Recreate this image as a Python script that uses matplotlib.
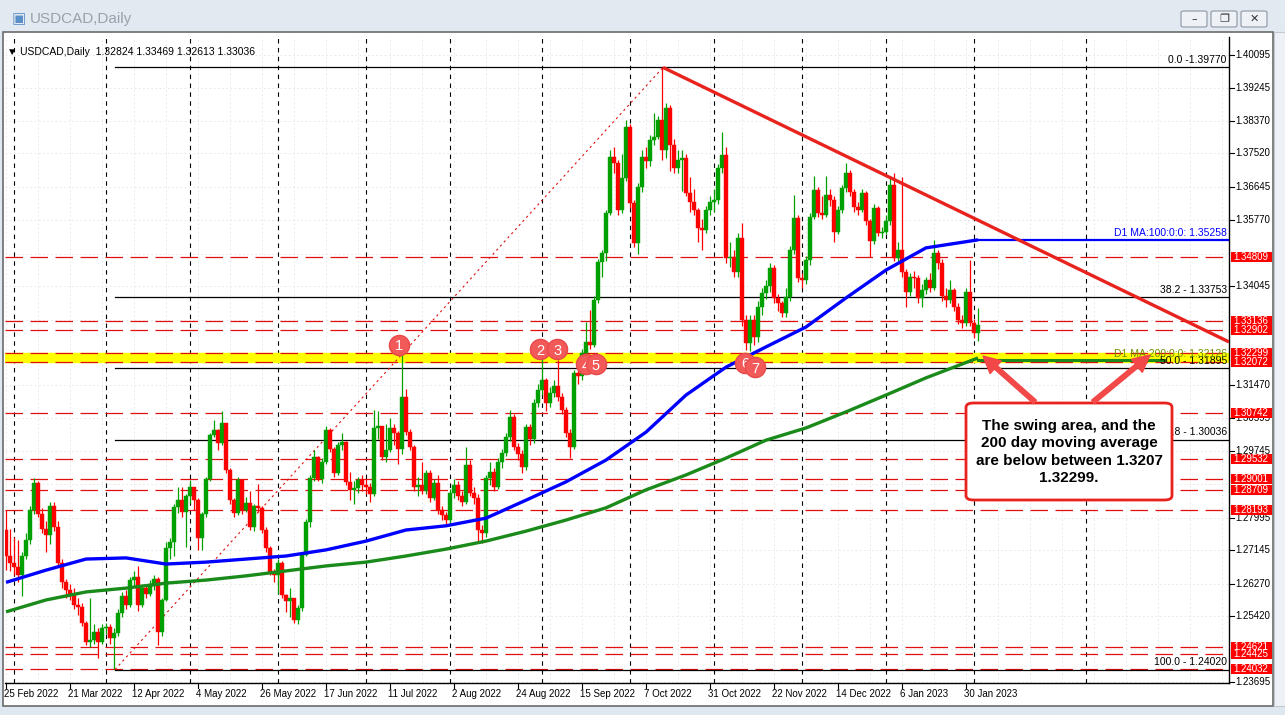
import numpy as np
import matplotlib
matplotlib.use("Agg")
import matplotlib.pyplot as plt
from matplotlib.patches import Rectangle, FancyBboxPatch, FancyArrow
from matplotlib.transforms import IdentityTransform

plt.rcParams['font.family'] = ['Liberation Sans', 'DejaVu Sans']

W, H = 1285, 715

# ---- daily USDCAD candles, 25 Feb 2022 .. 2 Feb 2023 ----
first_open = 1.2767
closes = [
    1.2700, 1.2680, 1.2670, 1.2650, 1.2700, 1.2740, 1.2820, 1.2890, 1.2810, 1.2770,
    1.2755, 1.2830, 1.2775, 1.2680, 1.2630, 1.2610, 1.2600, 1.2570, 1.2565, 1.2525,
    1.2475, 1.2480, 1.2500, 1.2475, 1.2510, 1.2512, 1.2485, 1.2497, 1.2550, 1.2595,
    1.2570, 1.2635, 1.2645, 1.2570, 1.2615, 1.2600, 1.2620, 1.2640, 1.2500, 1.2585,
    1.2720, 1.2736, 1.2828, 1.2845, 1.2815, 1.2855, 1.2880, 1.2845, 1.2745, 1.2810,
    1.2900, 1.3016, 1.3029, 1.2994, 1.3046, 1.2924, 1.2845, 1.2811, 1.2898, 1.2820,
    1.2837, 1.2776, 1.2830, 1.2824, 1.2767, 1.2719, 1.2658, 1.2649, 1.2680, 1.2597,
    1.2580, 1.2588, 1.2532, 1.2562, 1.2702, 1.2789, 1.2902, 1.2959, 1.2900, 1.2946,
    1.3029, 1.2980, 1.2915, 1.2990, 1.2998, 1.2893, 1.2872, 1.2876, 1.2898, 1.2885,
    1.2880, 1.2860, 1.3033, 1.3038, 1.2959, 1.2975, 1.3033, 1.3020, 1.2980, 1.3116,
    1.3024, 1.2985, 1.2880, 1.2885, 1.2869, 1.2915, 1.2850, 1.2889, 1.2820, 1.2807,
    1.2793, 1.2863, 1.2885, 1.2855, 1.2841, 1.2937, 1.2863, 1.2850, 1.2767, 1.2760,
    1.2902, 1.2920, 1.2880, 1.2945, 1.2968, 1.3011, 1.3063, 1.2985, 1.2967, 1.2933,
    1.3037, 1.3006, 1.3098, 1.3133, 1.3160, 1.3098, 1.3125, 1.3144, 1.3115, 1.3081,
    1.3020, 1.2985, 1.3177, 1.3170, 1.3229, 1.3260, 1.3252, 1.3369, 1.3469, 1.3491,
    1.3595, 1.3743, 1.3727, 1.3604, 1.3687, 1.3822, 1.3622, 1.3517, 1.3665, 1.3744,
    1.3731, 1.3787, 1.3796, 1.3840, 1.3760, 1.3870, 1.3775, 1.3713, 1.3735, 1.3740,
    1.3648, 1.3626, 1.3604, 1.3556, 1.3552, 1.3604, 1.3626, 1.3630, 1.3713, 1.3748,
    1.3478, 1.3480, 1.3443, 1.3530, 1.3316, 1.3255, 1.3316, 1.3272, 1.3351, 1.3386,
    1.3404, 1.3452, 1.3373, 1.3360, 1.3334, 1.3377, 1.3500, 1.3582, 1.3425, 1.3420,
    1.3473, 1.3587, 1.3656, 1.3595, 1.3591, 1.3643, 1.3630, 1.3547, 1.3604, 1.3661,
    1.3700, 1.3652, 1.3613, 1.3604, 1.3648, 1.3574, 1.3522, 1.3608, 1.3543, 1.3547,
    1.3574, 1.3670, 1.3478, 1.3500, 1.3443, 1.3390, 1.3430, 1.3426, 1.3373, 1.3395,
    1.3420, 1.3400, 1.3491, 1.3465, 1.3378, 1.3368, 1.3395, 1.3351, 1.3316, 1.3308,
    1.3390, 1.3308, 1.3282, 1.3304,
]
highs = [
    1.2819, 1.2770, 1.2750, 1.2740, 1.2710, 1.2760, 1.2830, 1.2903, 1.2895, 1.2825,
    1.2790, 1.2840, 1.2840, 1.2790, 1.2690, 1.2640, 1.2625, 1.2615, 1.2590, 1.2575,
    1.2530, 1.2590, 1.2520, 1.2510, 1.2520, 1.2525, 1.2520, 1.2510, 1.2560, 1.2605,
    1.2610, 1.2645, 1.2660, 1.2672, 1.2625, 1.2625, 1.2635, 1.2650, 1.2645, 1.2590,
    1.2735, 1.2745, 1.2835, 1.2880, 1.2880, 1.2860, 1.2898, 1.2880, 1.2850, 1.2815,
    1.2905, 1.3020, 1.3055, 1.3030, 1.3077, 1.3045, 1.2930, 1.2850, 1.2905, 1.2900,
    1.2854, 1.2870, 1.2835, 1.2888, 1.2830, 1.2775, 1.2725, 1.2665, 1.2690, 1.2685,
    1.2600, 1.2614, 1.2590, 1.2570, 1.2710, 1.2795, 1.2910, 1.2975, 1.2960, 1.2955,
    1.3040, 1.3035, 1.2985, 1.2998, 1.3020, 1.3000, 1.2920, 1.2895, 1.2905, 1.2910,
    1.2900, 1.2890, 1.3081, 1.3077, 1.3040, 1.3045, 1.3060, 1.3045, 1.3025, 1.3229,
    1.3137, 1.3030, 1.2990, 1.2905, 1.2945, 1.2925, 1.2925, 1.2900, 1.2910, 1.2830,
    1.2815, 1.2875, 1.2900, 1.2895, 1.2870, 1.2985, 1.2950, 1.2880, 1.2860, 1.2780,
    1.2910, 1.2945, 1.2930, 1.2955, 1.2980, 1.3020, 1.3080, 1.3070, 1.2995, 1.2975,
    1.3045, 1.3045, 1.3110, 1.3150, 1.3229, 1.3165, 1.3140, 1.3160, 1.3212, 1.3125,
    1.3090, 1.3030, 1.3185, 1.3195, 1.3240, 1.3310, 1.3342, 1.3380, 1.3475, 1.3500,
    1.3605, 1.3760, 1.3770, 1.3735, 1.3750, 1.3840, 1.3830, 1.3630, 1.3675, 1.3760,
    1.3770, 1.3800, 1.3857, 1.3850, 1.3977, 1.3885, 1.3880, 1.3790, 1.3760, 1.3760,
    1.3750, 1.3690, 1.3660, 1.3610, 1.3580, 1.3615, 1.3640, 1.3660, 1.3725, 1.3809,
    1.3770, 1.3520, 1.3500, 1.3545, 1.3570, 1.3330, 1.3330, 1.3330, 1.3365, 1.3400,
    1.3420, 1.3465, 1.3460, 1.3385, 1.3365, 1.3400, 1.3510, 1.3644, 1.3590, 1.3440,
    1.3485, 1.3595, 1.3692, 1.3665, 1.3640, 1.3692, 1.3660, 1.3640, 1.3615, 1.3670,
    1.3727, 1.3710, 1.3660, 1.3625, 1.3660, 1.3655, 1.3580, 1.3620, 1.3615, 1.3560,
    1.3590, 1.3692, 1.3700, 1.3520, 1.3690, 1.3450, 1.3440, 1.3445, 1.3435, 1.3410,
    1.3430, 1.3440, 1.3526, 1.3500, 1.3475, 1.3400, 1.3420, 1.3400, 1.3360, 1.3330,
    1.3400, 1.3473, 1.3320, 1.3347,
]
lows = [
    1.2662, 1.2660, 1.2650, 1.2630, 1.2595, 1.2690, 1.2730, 1.2810, 1.2800, 1.2760,
    1.2710, 1.2730, 1.2765, 1.2670, 1.2615, 1.2590, 1.2585, 1.2560, 1.2545, 1.2515,
    1.2465, 1.2460, 1.2470, 1.2432, 1.2470, 1.2495, 1.2470, 1.2403, 1.2490, 1.2540,
    1.2560, 1.2565, 1.2620, 1.2555, 1.2565, 1.2590, 1.2595, 1.2610, 1.2466, 1.2490,
    1.2580, 1.2690, 1.2700, 1.2811, 1.2800, 1.2723, 1.2837, 1.2819, 1.2715, 1.2715,
    1.2800, 1.2895, 1.3010, 1.2976, 1.2990, 1.2915, 1.2835, 1.2800, 1.2805, 1.2810,
    1.2815, 1.2767, 1.2765, 1.2815, 1.2760, 1.2710, 1.2650, 1.2632, 1.2600, 1.2590,
    1.2553, 1.2540, 1.2525, 1.2521, 1.2555, 1.2700, 1.2776, 1.2895, 1.2895, 1.2890,
    1.2940, 1.2970, 1.2905, 1.2910, 1.2975, 1.2885, 1.2845, 1.2835, 1.2865, 1.2870,
    1.2860, 1.2840, 1.2855, 1.3005, 1.2950, 1.2945, 1.2970, 1.2990, 1.2940, 1.2965,
    1.3015, 1.2975, 1.2870, 1.2855, 1.2860, 1.2860, 1.2840, 1.2845, 1.2810, 1.2793,
    1.2780, 1.2785, 1.2850, 1.2845, 1.2830, 1.2835, 1.2855, 1.2835, 1.2735, 1.2732,
    1.2750, 1.2885, 1.2870, 1.2875, 1.2930, 1.2960, 1.3000, 1.2975, 1.2950, 1.2915,
    1.2925, 1.2990, 1.2995, 1.3090, 1.3120, 1.3078, 1.3090, 1.3115, 1.3105, 1.3070,
    1.3010, 1.2955, 1.2980, 1.3150, 1.3160, 1.3220, 1.3240, 1.3245, 1.3360, 1.3430,
    1.3470, 1.3590, 1.3700, 1.3590, 1.3595, 1.3680, 1.3610, 1.3508, 1.3490, 1.3650,
    1.3715, 1.3720, 1.3775, 1.3790, 1.3735, 1.3740, 1.3705, 1.3700, 1.3700, 1.3655,
    1.3640, 1.3600, 1.3590, 1.3520, 1.3500, 1.3545, 1.3590, 1.3600, 1.3620, 1.3700,
    1.3465, 1.3455, 1.3430, 1.3430, 1.3300, 1.3238, 1.3235, 1.3250, 1.3260, 1.3330,
    1.3370, 1.3390, 1.3360, 1.3340, 1.3325, 1.3325, 1.3365, 1.3490, 1.3415, 1.3400,
    1.3410, 1.3460, 1.3580, 1.3585, 1.3580, 1.3585, 1.3615, 1.3520, 1.3540, 1.3595,
    1.3650, 1.3640, 1.3600, 1.3590, 1.3600, 1.3565, 1.3482, 1.3515, 1.3535, 1.3530,
    1.3540, 1.3565, 1.3470, 1.3470, 1.3430, 1.3351, 1.3380, 1.3400, 1.3360, 1.3351,
    1.3385, 1.3390, 1.3395, 1.3450, 1.3365, 1.3350, 1.3360, 1.3340, 1.3305, 1.3295,
    1.3300, 1.3300, 1.3268, 1.3261,
]

# moving averages read at sample bars
ma_idx = [0, 10, 20, 30, 40, 50, 60, 70, 80, 90, 100, 110, 120, 130, 140, 150,
          160, 170, 180, 190, 200, 210, 220, 230, 243]
ma100 = [1.2630, 1.2662, 1.2691, 1.2694, 1.2678, 1.2683, 1.2691, 1.2699, 1.2715,
         1.2738, 1.2767, 1.2778, 1.2798, 1.2845, 1.2893, 1.2950, 1.3023, 1.3120,
         1.3193, 1.3246, 1.3298, 1.3374, 1.3447, 1.3505, 1.3526]
ma200 = [1.2553, 1.2584, 1.2605, 1.2615, 1.2628, 1.2636, 1.2647, 1.2660, 1.2673,
         1.2683, 1.2699, 1.2717, 1.2738, 1.2764, 1.2793, 1.2825, 1.2872, 1.2911,
         1.2955, 1.3002, 1.3034, 1.3076, 1.3120, 1.3165, 1.3217]
ma100_last = 1.35258
ma200_last = 1.32126

# horizontal levels
red_levels = [1.34809, 1.33136, 1.32902, 1.32299, 1.32072, 1.30742, 1.29532,
              1.29001, 1.28709, 1.28193, 1.24621, 1.24425, 1.24032]
swing_zone = (1.32072, 1.32299)
fib_pcts = ["0.0", "38.2", "50.0", "61.8", "100.0"]
fib_prices = [1.39770, 1.33753, 1.31895, 1.30036, 1.24020]
fib_names = ["0.0 -1.39770", "38.2 - 1.33753", "50.0 - 1.31895",
             "61.8 - 1.30036", "100.0 - 1.24020"]
fib_low_bar, fib_high_bar = 27.25, 164.25

trend_bars = [164.25, 305.75]
trend_prices = [1.3977, 1.3259]

swing_labels = ["1", "2", "3", "4", "5", "6", "7"]
swing_bars = [98.2, 133.5, 137.8, 144.9, 147.4, 184.8, 187.3]
swing_prices = [1.3251, 1.3240, 1.3240, 1.3201, 1.3201, 1.3204, 1.3193]

# axis tick values that are not covered by the red price boxes
price_ticks = [1.40095, 1.39245, 1.38370, 1.37520, 1.36645, 1.35770,
               1.34045, 1.31470, 1.30595, 1.29745,
               1.27995, 1.27145, 1.26270, 1.25420, 1.23695]
grid_prices = [1.40095, 1.39245, 1.38370, 1.37520, 1.36645, 1.35770, 1.34895,
               1.34045, 1.33170, 1.32295, 1.31470, 1.30595, 1.29745, 1.28870,
               1.27995, 1.27145, 1.26270, 1.25420, 1.24545, 1.23695]
date_labels = ["25 Feb 2022", "21 Mar 2022", "12 Apr 2022", "4 May 2022",
               "26 May 2022", "17 Jun 2022", "11 Jul 2022", "2 Aug 2022",
               "24 Aug 2022", "15 Sep 2022", "7 Oct 2022", "31 Oct 2022",
               "22 Nov 2022", "14 Dec 2022", "6 Jan 2023", "30 Jan 2023"]
month_starts = [2, 25, 46, 68, 90, 111, 134, 156, 177, 199, 220, 242, 270]

note_lines = ["The swing area, and the", "200 day moving average",
              "are below between 1.3207", "1.32299."]

# ---------------------------------------------------------------------------
fig = plt.figure(figsize=(W / 100, H / 100), dpi=100)
fig.patch.set_facecolor("#dfe7f1")

def fx(px):
    return px / W

def fy(py):
    return 1 - py / H

# window chrome
fig.add_artist(Rectangle((0, fy(32)), 1, 32 / H, transform=fig.transFigure,
                         facecolor="#e3e9f1", edgecolor="none", zorder=0))
fig.add_artist(Rectangle((fx(3), fy(706)), fx(1270), (706 - 32) / H,
                         transform=fig.transFigure, facecolor="white",
                         edgecolor="#6b6b6b", lw=1.2, zorder=0))
fig.add_artist(Rectangle((fx(1274), fy(706)), fx(11), (706 - 32) / H,
                         transform=fig.transFigure, facecolor="#eef1f5",
                         edgecolor="#c3c9d1", lw=0.8, zorder=0))
fig.text(fx(12), fy(19), "\u25a3", fontsize=11, color="#5b8fc7", va="center")
fig.text(fx(30), fy(19), "USDCAD,Daily", fontsize=11, color="#9aa1aa",
         va="center")
for bx, glyph in zip([1181, 1211, 1241], ["\u2013", "\u2750", "\u2715"]):
    fig.add_artist(FancyBboxPatch((fx(bx), fy(27)), fx(26), 16 / H,
                                  boxstyle="round,pad=0,rounding_size=0.002",
                                  transform=fig.transFigure, facecolor="#eef2f7",
                                  edgecolor="#8d96a3", lw=0.8))
    fig.text(fx(bx + 13), fy(19), glyph, fontsize=8, color="#333333",
             ha="center", va="center", family=["DejaVu Sans"])

ax = fig.add_axes([fx(5), fy(683), fx(1224), 646 / H])
ax.set_xlim(-0.25, 305.75)
ax.set_ylim(1.23668, 1.40566)
ax.set_facecolor("white")
for s in ["top", "left"]:
    ax.spines[s].set_visible(False)
for s in ["right", "bottom"]:
    ax.spines[s].set_color("black")
    ax.spines[s].set_linewidth(1.0)
ax.set_xticks([])
ax.set_yticks([])

# faint grid
for p in grid_prices:
    ax.axhline(p, color="#e4e4e4", lw=0.6, ls=(0, (2, 3)), zorder=0)
for k in range(0, 40):
    ax.axvline(8 * k, color="#e4e4e4", lw=0.6, ls=(0, (2, 3)), zorder=0)
# period separators
for m in month_starts:
    ax.axvline(m, color="black", lw=0.8, ls=(0, (4, 4)), zorder=1)

# swing zone
ax.axhspan(swing_zone[0], swing_zone[1], color="#ffff00", zorder=1)
for p in red_levels:
    ax.axhline(p, color="#e01010", lw=0.9, ls=(0, (14, 6)), zorder=2)

# fib retracement
for p in fib_prices:
    ax.plot([fib_low_bar, 305.75], [p, p], color="black", lw=0.9, zorder=2)
ax.plot([fib_low_bar, fib_high_bar], [fib_prices[-1], fib_prices[0]],
        color="#e01010", lw=0.8, ls=(0, (2, 3)), zorder=2)
for name, p in zip(fib_names, fib_prices):
    ax.text(305.2, p + 0.0007, name, fontsize=7.5, ha="right",
            va="bottom", zorder=6)

# candles
opens = [first_open] + closes[:-1]
n = len(closes)
for i in range(n):
    o, c = opens[i], closes[i]
    col = "#00a000" if c >= o else "#ff0000"
    ax.vlines(i, lows[i], highs[i], color=col, lw=0.9, zorder=3)
    lo, hi = min(o, c), max(o, c)
    ax.add_patch(Rectangle((i - 0.38, lo), 0.76, max(hi - lo, 0.00012),
                           facecolor=col, edgecolor=col, lw=0.3, zorder=3))

# moving averages
ax.plot(ma_idx, ma100, color="#0000ff", lw=2.4, zorder=4, solid_capstyle="butt")
ax.plot(ma_idx, ma200, color="#1a8a1a", lw=2.4, zorder=4, solid_capstyle="butt")
ax.plot([ma_idx[-1], 305.75], [ma100_last, ma100_last], color="#0000ff",
        lw=1.6, zorder=4)
ax.plot([ma_idx[-1], 289.5], [ma200_last, ma200_last], color="#1a8a1a",
        lw=2.2, zorder=4)
ax.text(305.2, ma100_last + 0.0005, "D1 MA:100:0:0: 1.35258", color="#0000ff",
        fontsize=7.5, ha="right", va="bottom", zorder=6)
ax.text(305.2, ma200_last + 0.0003, "D1 MA:200:0:0: 1.32126", color="#6e8f00",
        fontsize=7.5, ha="right", va="bottom", zorder=6)

# trend line
ax.plot(trend_bars, trend_prices, color="#e8231e", lw=2.4, zorder=5,
        solid_capstyle="butt")

# swing markers, each later one drawn over the previous
for k, (lab, b, p) in enumerate(zip(swing_labels, swing_bars, swing_prices)):
    ax.plot(b, p, "o", ms=14.5, mfc="#f25a5a", mec="#e84a4a", zorder=7 + 0.1 * k)
    ax.text(b, p, lab, color="white", fontsize=10.5, ha="center",
            va="center_baseline", zorder=7.05 + 0.1 * k)

# right price axis
ytr = ax.get_yaxis_transform()
for p in price_ticks:
    ax.plot([1, 1.004], [p, p], transform=ytr, color="black", lw=0.8,
            clip_on=False)
    ax.text(1.005, p, f"{p:.5f}", transform=ytr, fontsize=7, va="center",
            ha="left")
box_h = 10 * (1.40566 - 1.23668) / 646
for p in red_levels:
    ax.add_patch(Rectangle((1.0016, p - box_h / 2), 0.0335, box_h,
                           transform=ytr, facecolor="#ff0000", edgecolor="none",
                           clip_on=False, zorder=9))
    ax.text(1.0035, p, f"{p:.5f}", transform=ytr, fontsize=7, va="center",
            ha="left", color="white", zorder=10)

# bottom date axis
xtr = ax.get_xaxis_transform()
for k, lab in enumerate(date_labels):
    b = 16 * k
    ax.plot([b, b], [0, -0.007], transform=xtr, color="black", lw=0.8,
            clip_on=False)
    ax.text(b - 0.5, -0.01, lab, transform=xtr, fontsize=7, ha="left",
            va="top")

# header line
ax.text(0.002, 0.985, "\u25bc USDCAD,Daily  1.32824 1.33469 1.32613 1.33036",
        transform=ax.transAxes, fontsize=7.5, va="top", ha="left", zorder=9)

# annotation box and arrows
fig.add_artist(FancyBboxPatch((fx(966), fy(500)), fx(206), 97 / H,
                              boxstyle="round,pad=0,rounding_size=0.006",
                              transform=fig.transFigure, facecolor="white",
                              edgecolor="#e8231e", lw=2.0, zorder=10))
for k, line in enumerate(note_lines):
    fig.text(fx(1069), fy(426 + 17.5 * k), line, fontsize=11, weight="bold",
             ha="center", va="center", zorder=11)
for (tx, ty), (hx, hy) in [((1035, 402), (983, 356)), ((1093, 402), (1150, 355))]:
    fig.add_artist(FancyArrow(tx, H - ty, hx - tx, -(hy - ty), width=4.5,
                              head_width=17, head_length=17,
                              length_includes_head=True, color="#f24848",
                              transform=IdentityTransform(), zorder=10))

fig.savefig("out.png", dpi=100)
